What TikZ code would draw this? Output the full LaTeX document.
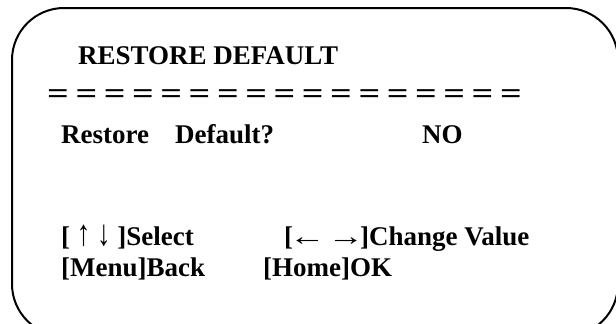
\documentclass[tikz,border=0pt]{standalone}
\usepackage{fontspec}
\setmainfont{Liberation Serif}
\newcommand{\vup}{\scalebox{1}[1.35]{↑}}
\newcommand{\vdown}{\scalebox{1}[1.35]{↓}}
\newcommand{\hleft}{\scalebox{1.35}[1]{←}}
\newcommand{\hright}{\scalebox{1.35}[1]{→}}
\begin{document}
\begin{tikzpicture}[x=1pt,y=1pt,
  osd/.style={anchor=base west, inner sep=0pt, font=\fontsize{27}{32}\selectfont\bfseries},
  eqsign/.style={anchor=west, inner sep=0pt, font=\fontsize{27}{32}\selectfont\bfseries}]
\useasboundingbox (0,0) rectangle (616,-324);
\clip (0,0) rectangle (616,-324);
\draw[line width=2pt, rounded corners=52pt] (12,-8) rectangle (618,-336);
\node[osd] (title) at (78,-64) {RESTORE DEFAULT};
\foreach \i in {0,...,16} {
  \node[eqsign] (eq\i) at (47+\i*28.3,-97) {\scalebox{1.41}[1.1]{=}};
}
\node[osd] (q) at (61,-143) {Restore\hspace{26pt}Default?};
\node[osd] (no) at (422,-143) {NO};
\node[osd] (sel) at (61,-245) {[ \vup{} \vdown{} ]Select};
\node[osd] (chg) at (284,-245) {[\hspace{-4pt}\hleft\hspace{2pt}\hright\hspace{-4pt}]Change Value};
\node[osd] (back) at (61,-276) {[Menu]Back};
\node[osd] (ok) at (263,-276) {[Home]OK};
\end{tikzpicture}
\end{document}
